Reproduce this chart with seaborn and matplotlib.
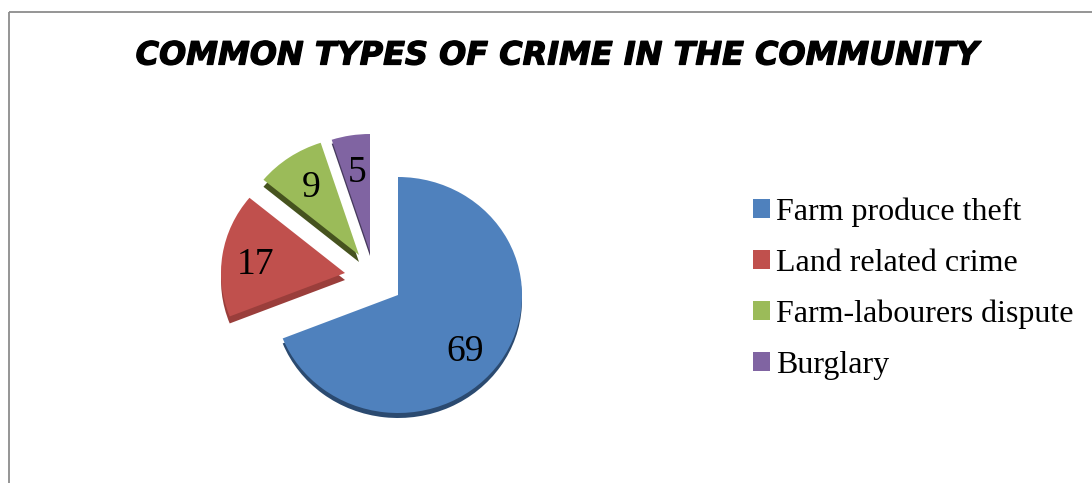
import matplotlib
matplotlib.use("Agg")
import matplotlib.pyplot as plt
import matplotlib.patheffects as pe
from matplotlib.lines import Line2D
import seaborn as sns

categories = ["Farm produce theft", "Land related crime", "Farm-labourers dispute", "Burglary"]
values = [69, 17, 9, 5]

face_colors = ["#4F81BD", "#C0504D", "#9BBB59", "#8064A2"]
side_colors = ["#2B4A70", "#9A3E3B", "#46531F", "#463A5C"]

# Pie geometry, in pixels of the 1092x483 canvas
W, H = 1092, 483
RX, RY = 124.0, 118.0
CX, CY = 398.0, 296.0
slice_apex = [(398, 295), (345, 273), (359, 255), (370, 252)]
label_pos = [(465, 352), (256, 265), (311, 188), (357, 173)]
depth = [5, 7, 7, 4]

sns.set_theme(style="white")
plt.rcParams["font.family"] = ["Liberation Serif", "DejaVu Serif"]

fig = plt.figure(figsize=(W / 100, H / 100), dpi=100, facecolor="white")
ax = fig.add_axes([0, 0, 1, 1])


def to_data(px, py):
    return (px - CX) / RX, (CY - py) / RY


no_edge = {"edgecolor": "none", "linewidth": 0}

# Side walls first, shifted down, then the top faces
walls, _ = ax.pie(values, colors=side_colors, startangle=90, counterclock=False,
                  frame=True, wedgeprops=no_edge)
for wedge, (ax_x, ax_y), d in zip(walls, slice_apex, depth):
    wedge.set_center(to_data(ax_x, ax_y + d))
    wedge.set_zorder(1)

faces, _ = ax.pie(values, colors=face_colors, startangle=90, counterclock=False,
                  frame=True, wedgeprops=no_edge)
for wedge, (ax_x, ax_y) in zip(faces, slice_apex):
    wedge.set_center(to_data(ax_x, ax_y))
    wedge.set_zorder(2)

# Unit circle becomes a slightly flattened ellipse on the full-canvas axes
ax.set_aspect("auto")
ax.set_xlim(-CX / RX, (W - CX) / RX)
ax.set_ylim(-(H - CY) / RY, CY / RY)
ax.set_axis_off()

for value, (px, py) in zip(values, label_pos):
    x, y = to_data(px, py)
    ax.text(x, y, str(value), ha="center", va="center", fontsize=27, color="black", zorder=3)

# A thin outline gives the title its extra weight
fig.text(558 / W, 1 - 56 / H, "COMMON TYPES OF CRIME IN THE COMMUNITY",
         ha="center", va="center", fontsize=23, fontweight="bold", fontstyle="italic",
         family="DejaVu Sans", color="black",
         path_effects=[pe.withStroke(linewidth=0.9, foreground="black")])

legend = ax.legend(faces, categories, loc="upper left",
                   bbox_to_anchor=(753 / W, 1 - 197 / H), bbox_transform=fig.transFigure,
                   frameon=False, fontsize=23, labelcolor="black",
                   handlelength=0.53, handleheight=0.53,
                   handletextpad=0.19, labelspacing=0.69, borderpad=0, borderaxespad=0)

# Chart border: top and left edges only, the rest runs off the canvas
border = dict(color="#8C8C8C", lw=1.3, transform=fig.transFigure, solid_capstyle="butt")
fig.add_artist(Line2D([8.5 / W, 1], [1 - 11.5 / H, 1 - 11.5 / H], **border))
fig.add_artist(Line2D([8.5 / W, 8.5 / W], [1 - 11.5 / H, 0], **border))

fig.savefig("out.png", dpi=100, facecolor="white")
